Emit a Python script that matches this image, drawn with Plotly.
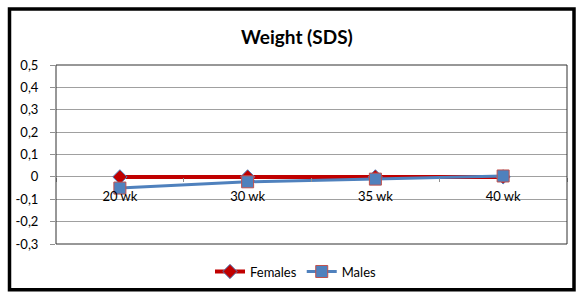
import plotly.graph_objects as go

categories = ["20 wk", "30 wk", "35 wk", "40 wk"]
females = [0.0, 0.0, 0.0, 0.0]
males = [-0.05, -0.022, -0.01, 0.004]
y_ticks = [0.5, 0.4, 0.3, 0.2, 0.1, 0.0, -0.1, -0.2, -0.3]
y_tick_labels = ["0,5", "0,4", "0,3", "0,2", "0,1", "0", "-0,1", "-0,2", "-0,3"]

W, H = 576, 296
L, R, T, B = 56, 9, 65, 49
pw, ph = W - L - R, H - T - B

def px(x):
    return (x - L) / pw

def py(y):
    return (H - B - y) / ph

ymin, ymax = -0.3, 0.5
font = "Lato, 'Open Sans', sans-serif"

fig = go.Figure()
fig.add_trace(go.Scatter(
    x=categories, y=females, name="Females", mode="lines+markers",
    line=dict(color="#C00000", width=4),
    marker=dict(symbol="diamond", size=11, color="#C00000",
                line=dict(color="#4F81BD", width=1)),
))
fig.add_trace(go.Scatter(
    x=categories, y=males, name="Males", mode="lines+markers",
    line=dict(color="#4F81BD", width=3),
    marker=dict(symbol="square", size=12, color="#4F81BD",
                line=dict(color="#C0504D", width=1)),
))

fig.update_layout(
    width=W, height=H,
    margin=dict(l=L, r=R, t=T, b=B, pad=0),
    paper_bgcolor="white", plot_bgcolor="white",
    font=dict(family=font, size=13, color="black"),
    showlegend=True,
    legend=dict(orientation="h", x=px(296), xanchor="center",
                y=py(275), yanchor="middle", font=dict(size=13),
                itemwidth=30, tracegroupgap=0, bgcolor="rgba(0,0,0,0)"),
    xaxis=dict(
        type="category", range=[-0.5, 3.5],
        anchor="free", position=(0 - ymin) / (ymax - ymin),
        showgrid=False, zeroline=False, showline=False,
        ticks="outside", tickson="boundaries", ticklen=4,
        tickcolor="#909090", tickfont=dict(size=13),
        ticklabelstandoff=10,
    ),
    yaxis=dict(
        range=[ymin, ymax], tickvals=y_ticks, ticktext=y_tick_labels,
        showgrid=True, gridcolor="#A0A0A0", gridwidth=1,
        zeroline=True, zerolinecolor="#A0A0A0", zerolinewidth=1,
        showline=False, ticks="outside", ticklen=5, tickcolor="#909090",
        tickfont=dict(size=13), ticklabelstandoff=9,
    ),
    shapes=[
        dict(type="rect", xref="paper", yref="paper", x0=0, x1=1, y0=0, y1=1,
             line=dict(color="#303030", width=1), layer="above"),
        dict(type="rect", xref="paper", yref="paper",
             x0=px(9.5), x1=px(574), y0=py(8), y1=py(293.5),
             line=dict(color="black", width=3.5), layer="above"),
    ],
    annotations=[
        dict(text="<b>Weight (SDS)</b>", xref="paper", yref="paper",
             x=px(297), y=py(36), xanchor="center", yanchor="middle",
             showarrow=False, font=dict(size=19, family=font, color="black")),
    ],
)

fig.write_html(
    "out.html",
    config={"displayModeBar": False},
    post_script="document.body.style.margin='0';document.body.style.overflow='hidden';",
)
